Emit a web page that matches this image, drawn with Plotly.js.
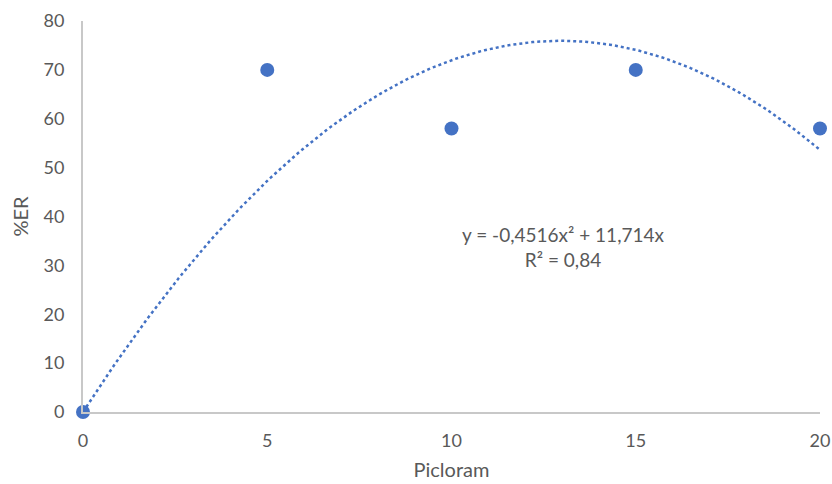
<!DOCTYPE html>
<html><head><meta charset="utf-8">
<script src="https://cdn.plot.ly/plotly-3.0.1.min.js"></script>
<style>body{margin:0;background:#fff}#c{width:832px;height:484px}</style>
</head><body><div id="c"></div>
<script>
const xValues = [0, 5, 10, 15, 20];
const yValues = [0, 70, 58, 70, 58];
const xTicks = [0, 5, 10, 15, 20];
const yTicks = [0, 10, 20, 30, 40, 50, 60, 70, 80];
const xLabel = 'Picloram';
const yLabel = '%ER';
const rSquaredLabel = '0,84';

// Least-squares fit y = a x^2 + b x (polynomial trendline, intercept 0)
let s2=0,s3=0,s4=0,sxy=0,sx2y=0;
for(let i=0;i<xValues.length;i++){const x=xValues[i],y=yValues[i];s2+=x*x;s3+=x*x*x;s4+=x*x*x*x;sxy+=x*y;sx2y+=x*x*y;}
const det=s4*s2-s3*s3;
const a=(sx2y*s2-s3*sxy)/det;
const b=(s4*sxy-s3*sx2y)/det;
const tx=[],ty=[];
const xmin=Math.min(...xValues),xmax=Math.max(...xValues);
for(let k=0;k<=200;k++){const x=xmin+(xmax-xmin)*k/200;tx.push(x);ty.push(a*x*x+b*x);}
const fmt=(v,d)=>v.toFixed(d).replace('.',',');
const eq='y = '+fmt(a,4)+'x² + '+fmt(b,3)+'x<br>R² = '+rSquaredLabel;

const ff='Lato, "Open Sans", sans-serif';
const tfont={family:ff,size:18,color:'#595959'};
const W=832,H=484,L=83,R=12,T=21,B=72;
Plotly.newPlot('c',[
 {x:tx,y:ty,mode:'lines',line:{color:'#4472C4',width:2.5,dash:'dot'},hoverinfo:'skip',showlegend:false},
 {x:xValues,y:yValues,mode:'markers',marker:{color:'#4472C4',size:14},showlegend:false,cliponaxis:false}
],{
 width:W,height:H,margin:{l:L,r:R,t:T,b:B},
 paper_bgcolor:'#fff',plot_bgcolor:'#fff',font:tfont,showlegend:false,
 xaxis:{range:[0,20],tickvals:xTicks,showgrid:false,zeroline:false,showline:true,linecolor:'#c8c8c8',linewidth:2,ticks:'',tickfont:tfont,ticklabelstandoff:11,
   title:{text:xLabel,font:{family:ff,size:20,color:'#595959'},standoff:13}},
 yaxis:{range:[0,80],tickvals:yTicks,showgrid:false,zeroline:false,showline:true,linecolor:'#c8c8c8',linewidth:2,ticks:'',tickfont:tfont,ticklabelstandoff:13,
   title:{text:yLabel,font:{family:ff,size:20,color:'#595959'},standoff:10}},
 annotations:[{x:(563-L)/(W-L-R),y:1-(247-T)/(H-T-B),xref:'paper',yref:'paper',text:eq,showarrow:false,
   font:{family:ff,size:19,color:'#595959'},align:'center',xanchor:'center',yanchor:'middle'}]
},{displayModeBar:false,staticPlot:true});
</script></body></html>
